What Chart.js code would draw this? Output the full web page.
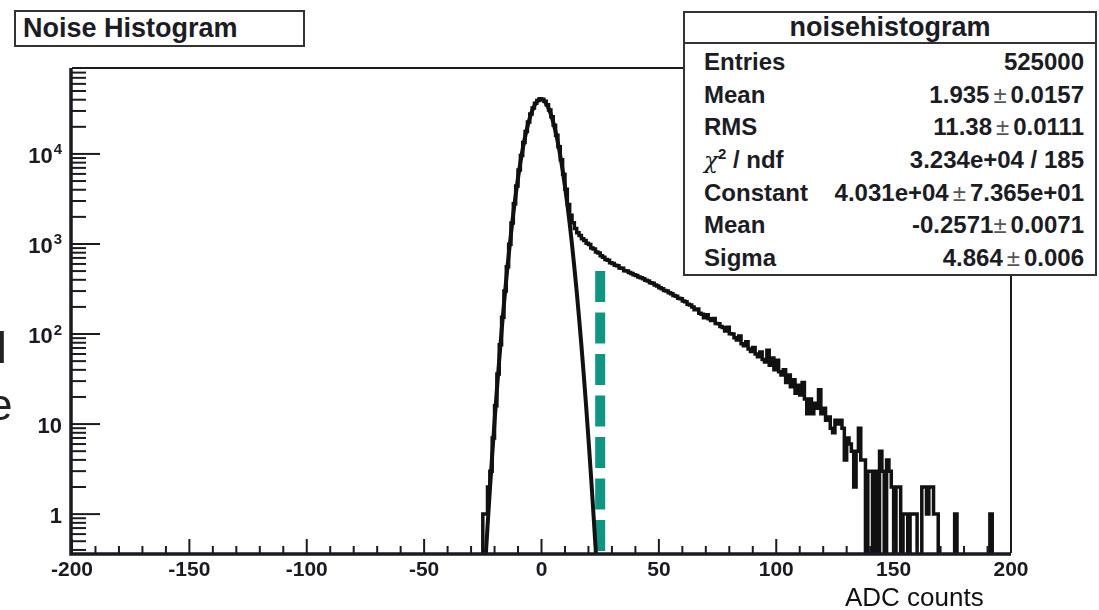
<!DOCTYPE html>
<html>
<head>
<meta charset="utf-8">
<title>Noise Histogram</title>
<script src="https://cdn.jsdelivr.net/npm/chart.js@4.4.1/dist/chart.umd.min.js"></script>
<style>
  html, body { margin: 0; padding: 0; background: #fff; }
  body { width: 1099px; height: 610px; position: relative; overflow: hidden;
         font-family: 'Liberation Sans', Arial, sans-serif; color: #1c1c24; }
  #wrap { position: absolute; left: 0; top: 0; width: 1099px; height: 610px; }
  .box { position: absolute; background: #fff; border: 2px solid #333; box-sizing: border-box; }
  #title { left: 14px; top: 10px; width: 291px; height: 37px; font-weight: bold;
           font-size: 27px; line-height: 33px; padding-left: 7px; }
  #stats { left: 683px; top: 11px; width: 414px; height: 265px; font-weight: bold; }
  #stats .head { height: 29px; line-height: 29px; font-size: 27px; text-align: center;
                 border-bottom: 2px solid #333; }
  #stats .rows { padding-top: 2px; }
  #stats .row { display: flex; justify-content: space-between; height: 32.7px;
                line-height: 32.7px; font-size: 24px; padding: 0 11px 0 19px; }
  .pm { font-weight: normal; color: #555; margin: 0 4px; }
  .chi { font-weight: normal; font-family: 'DejaVu Serif', serif; font-size: 23px; }
  .sup { font-size: 15px; position: relative; top: -9px; }
  #xlabel { position: absolute; left: 845px; top: 584px; font-size: 26px; line-height: 26px; color: #111; }
  .cut { position: absolute; font-size: 44px; line-height: 44px; color: #222; }
</style>
</head>
<body>
<div id="wrap"><canvas id="noise-chart"></canvas></div>
<div class="box" id="title">Noise Histogram</div>
<div class="box" id="stats">
  <div class="head">noisehistogram</div>
  <div class="rows">
    <div class="row"><span>Entries</span><span>525000</span></div>
    <div class="row"><span>Mean</span><span>1.935<span class="pm">±</span>0.0157</span></div>
    <div class="row"><span>RMS</span><span>11.38<span class="pm">±</span>0.0111</span></div>
    <div class="row"><span><i class="chi">χ</i><span class="sup">2</span> / ndf</span><span>3.234e+04 / 185</span></div>
    <div class="row"><span>Constant</span><span>4.031e+04<span class="pm">±</span>7.365e+01</span></div>
    <div class="row"><span>Mean</span><span>-0.2571<span class="pm" style="margin-left:0">±</span>0.0071</span></div>
    <div class="row"><span>Sigma</span><span>4.864<span class="pm">±</span>0.006</span></div>
  </div>
</div>
<div id="xlabel">ADC counts</div>
<div class="cut" style="left:-3px; top:326px;">l</div>
<div class="cut" style="left:-12px; top:383px;">e</div>

<script>
// histogram: 1-unit bins, first bin starts at -26 ADC counts
const histFirstBin = -26;
const histCounts = [
    0, 1, 1, 2, 3, 7, 16, 36, 76, 154,                                  // -26..-17
    300, 557, 994, 1705, 2800, 4410, 6650, 9630, 13360, 17770,          // -16..-7
    22650, 27690, 32440, 36440, 39270, 40900, 40500, 38500, 35100, 30700, // -6..3
    25800, 20800, 16100, 12000, 8600, 5950, 4050, 2750, 2080, 1720,     // 4..13
    1490, 1330, 1245, 1140, 1095, 1020, 985, 905, 880, 815,             // 14..23
    795, 738, 712, 672, 660, 618, 608, 581, 572, 541,                   // 24..33
    536, 505, 501, 482, 470, 455, 447, 430, 421, 410,                   // 34..43
    396, 388, 372, 366, 350, 341, 326, 318, 305, 300,                   // 44..53
    287, 280, 268, 262, 250, 246, 232, 228, 214, 210,                   // 54..63
    199, 186, 190, 170, 166, 152, 164, 148, 141, 149,                   // 64..73
    131, 130, 121, 118, 108, 119, 101, 100, 91, 86,                     // 74..83
    95, 78, 74, 82, 68, 64, 71, 60, 56, 63,                             // 84..93
    52, 49, 66, 45, 54, 40, 51, 38, 35, 40,                             // 94..103
    29, 35, 26, 31, 22, 27, 21, 29, 19, 13,                             // 104..113
    19, 13, 17, 15, 24, 13, 15, 11, 12, 9,                              // 114..123
    8, 11, 10, 11, 9, 4, 7, 6, 5, 2,                                    // 124..133
    5, 9, 4, 4, 0, 3, 3, 0, 3, 0,                                       // 134..143
    5, 3, 0, 4, 3, 2, 0, 2, 2, 0,                                       // 144..153
    1, 1, 0, 1, 1, 1, 0, 0, 2, 2,                                       // 154..163
    1, 2, 2, 1, 1, 0, 0, 0, 0, 0,                                       // 164..173
    0, 0, 1, 0, 0, 0, 0, 0, 0, 0,                                       // 174..183
    0, 0, 0, 0, 0, 0, 0, 1, 0, 0,                                       // 184..193
    0, 0, 0, 0, 0, 0                                                    // 194..199
];

// gaussian fit curve, read at integer ADC counts from -24 to 24
const fitFirstX = -24;
const fitY = [
    0.27, 0.72, 1.85, 4.53, 10.7, 24.1, 52.0, 108, 215, 408,
    744, 1303, 2187, 3519, 5423, 8015, 11356, 15423, 20078, 25057,
    29979, 34385, 37803, 39842, 40254, 38988, 36196, 32216, 27484, 22477,
    17623, 13246, 9541, 6591, 4362, 2771, 1685, 983, 549, 295,
    151, 74.5, 35.2, 15.9, 6.89, 2.87, 1.14, 0.44, 0.16
];

// cut marker (teal dashed line)
const cutX = 25;
const cutTop = 500;

const xRange = [-200, 200];
const yRange = [0.37, 90000];
const xTicks = [-200, -150, -100, -50, 0, 50, 100, 150, 200];
const yTickValues = [1, 10, 100, 1000, 10000];
const yTickBase = ['1', '10', '10', '10', '10'];
const yTickExp = ['', '', '2', '3', '4'];

const FONT = "'Liberation Sans', Arial, sans-serif";
const INK = '#1a1a22';
const BELOW_AXIS = 0.1; // empty bins are drawn below the log axis (clipped)

const histPoints = histCounts.map((c, i) => ({ x: histFirstBin + i, y: c > 0 ? c : BELOW_AXIS }));
histPoints.push({ x: histFirstBin + histCounts.length, y: BELOW_AXIS });
const fitPoints = fitY.map((v, i) => ({ x: fitFirstX + i, y: v }));
const cutPoints = [{ x: cutX, y: cutTop }, { x: cutX, y: yRange[0] }];

// ROOT-like frame, inner ticks and y labels with exponents
const rootAxes = {
    id: 'rootAxes',
    afterDatasetsDraw(chart) {
        const { ctx, chartArea: a, scales } = chart;
        const xs = scales.x, ys = scales.y;
        ctx.save();
        ctx.strokeStyle = INK;
        ctx.lineCap = 'butt';

        // x ticks every 10, major every 50
        ctx.lineWidth = 2;
        for (let v = xRange[0]; v <= xRange[1]; v += 10) {
            const px = xs.getPixelForValue(v);
            const len = v % 50 === 0 ? 14 : 7;
            ctx.beginPath();
            ctx.moveTo(px, a.bottom);
            ctx.lineTo(px, a.bottom - len);
            ctx.stroke();
        }
        // y ticks: decades + 2..9 minors
        for (let e = -1; e <= 4; e++) {
            for (let m = 1; m <= 9; m++) {
                const v = m * Math.pow(10, e);
                if (v < ys.min || v > ys.max) continue;
                const py = ys.getPixelForValue(v);
                const len = m === 1 ? 28 : 14;
                ctx.beginPath();
                ctx.moveTo(a.left, py);
                ctx.lineTo(a.left + len, py);
                ctx.stroke();
            }
        }

        // frame
        ctx.lineWidth = 2;
        ctx.beginPath();
        ctx.moveTo(a.left, a.top);
        ctx.lineTo(a.right, a.top);
        ctx.lineTo(a.right, a.bottom);
        ctx.stroke();
        ctx.lineWidth = 3.5;
        ctx.beginPath();
        ctx.moveTo(a.left - 1, a.top);
        ctx.lineTo(a.left - 1, a.bottom + 1);
        ctx.lineTo(a.right, a.bottom + 1);
        ctx.stroke();

        // y labels
        ctx.fillStyle = INK;
        ctx.textBaseline = 'alphabetic';
        ctx.textAlign = 'right';
        yTickValues.forEach((v, i) => {
            const py = ys.getPixelForValue(v);
            const right = a.left - 10;
            if (yTickExp[i]) {
                ctx.font = `bold 15px ${FONT}`;
                ctx.fillText(yTickExp[i], right, py + 0.5);
                const w = ctx.measureText(yTickExp[i]).width;
                ctx.font = `bold 22px ${FONT}`;
                ctx.fillText(yTickBase[i], right - w - 1, py + 9);
            } else {
                ctx.font = `bold 22px ${FONT}`;
                ctx.fillText(yTickBase[i], right, py + 9);
            }
        });
        ctx.restore();
    }
};

const ctx = document.getElementById('noise-chart').getContext('2d');
new Chart(ctx, {
    type: 'line',
    data: {
        datasets: [
            {
                label: 'noisehistogram',
                data: histPoints,
                stepped: 'before',
                borderColor: '#111',
                borderWidth: 3.5,
                pointRadius: 0,
                fill: false
            },
            {
                label: 'gaus fit',
                data: fitPoints,
                borderColor: '#111',
                borderWidth: 4,
                cubicInterpolationMode: 'monotone',
                pointRadius: 0,
                fill: false
            },
            {
                label: 'cut',
                data: cutPoints,
                borderColor: '#0f9682',
                borderWidth: 10,
                borderDash: [31, 10.5],
                borderCapStyle: 'butt',
                pointRadius: 0,
                fill: false
            }
        ]
    },
    options: {
        responsive: true,
        maintainAspectRatio: false,
        animation: false,
        events: [],
        layout: { padding: { top: 68, right: 88, left: 0, bottom: 0 } },
        plugins: {
            legend: { display: false },
            tooltip: { enabled: false }
        },
        scales: {
            x: {
                type: 'linear',
                min: xRange[0],
                max: xRange[1],
                grid: { display: false, drawTicks: false },
                border: { display: false },
                afterBuildTicks: (scale) => { scale.ticks = xTicks.map(v => ({ value: v })); },
                afterFit: (scale) => { scale.height = 57; },
                ticks: {
                    autoSkip: false,
                    maxRotation: 0,
                    padding: 5,
                    color: INK,
                    font: { family: FONT, size: 21, weight: 'bold' },
                    callback: (v) => String(v)
                }
            },
            y: {
                type: 'logarithmic',
                min: yRange[0],
                max: yRange[1],
                grid: { display: false, drawTicks: false },
                border: { display: false },
                ticks: { display: false },
                afterFit: (scale) => { scale.width = 72; }
            }
        }
    },
    plugins: [rootAxes]
});
</script>
</body>
</html>
